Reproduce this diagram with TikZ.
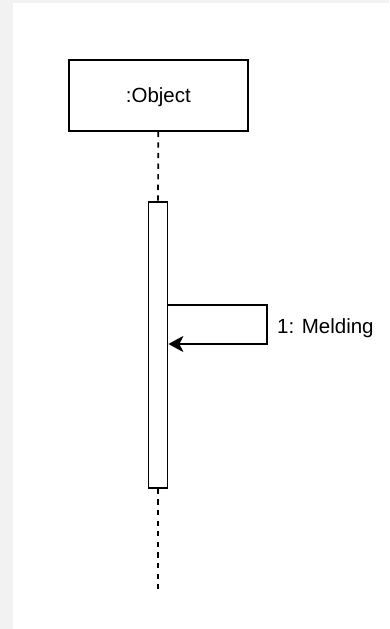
\documentclass[tikz,border=0pt]{standalone}
\usepackage{fontspec}
\setmainfont{Liberation Sans}
\usetikzlibrary{arrows.meta, positioning}

\begin{document}
\begin{tikzpicture}[x=1pt, y=-1pt, line width=1.7pt, >={Stealth[length=15pt, width=16pt, inset=4pt]},
    every node/.style={font=\fontsize{20.5}{24}\selectfont, text height=14.8pt, text depth=0pt}]
  %% page
  \fill[black!5] (0,0) rectangle (389,629);
  \fill[white] (13,3) rectangle (389,629);
  \useasboundingbox (0,0) rectangle (389,629);

  %% object with its lifeline
  \node[draw, minimum width=179pt, minimum height=71pt, anchor=north west] (obj) at (68,59) {:Object};
  \node[draw, fill=white, minimum width=19pt, minimum height=286pt, inner sep=0pt, anchor=north] (act) at (158,201) {};
  \coordinate (end) at (158,593);

  \path[dash pattern=on 5.3pt off 5.3pt]
    (obj.south) edge (act.north)
    (act.south) edge (end);

  %% self message
  \coordinate (out) at (act.east |- 0,305);
  \coordinate (back) at (act.east |- 0,344);
  \coordinate (turn) at (267,344);
  \draw[->] (out) -| (turn) -- (back);
  \node[right=6pt of turn, yshift=17.5pt] (msg) {1: Melding};
\end{tikzpicture}
\end{document}
